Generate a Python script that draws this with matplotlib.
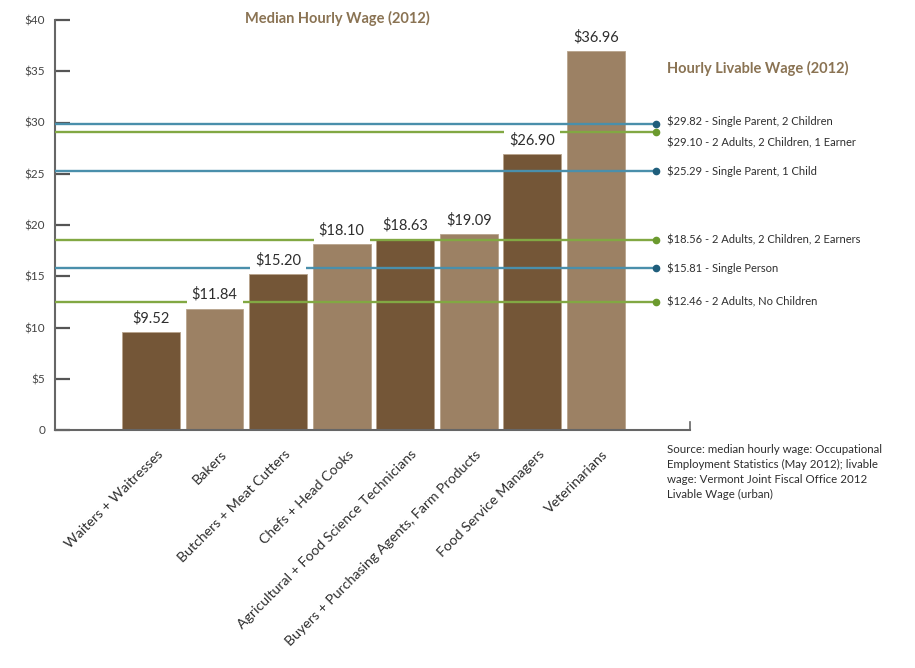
import numpy as np
import matplotlib.pyplot as plt
from matplotlib.transforms import ScaledTranslation

plt.rcParams['font.family'] = ['Lato', 'DejaVu Sans']

## DATA
jobs = ['Waiters + Waitresses', 'Bakers', 'Butchers + Meat Cutters', 'Chefs + Head Cooks',
        'Agricultural + Food Science Technicians', 'Buyers + Purchasing Agents, Farm Products',
        'Food Service Managers', 'Veterinarians']
median_wage = [9.52, 11.84, 15.20, 18.10, 18.63, 19.09, 26.90, 36.96]

livable_wage = [29.82, 29.10, 25.29, 18.56, 15.81, 12.46]
livable_label = ['Single Parent, 2 Children', '2 Adults, 2 Children, 1 Earner', 'Single Parent, 1 Child',
                 '2 Adults, 2 Children, 2 Earners', 'Single Person', '2 Adults, No Children']
livable_group = ['parent', 'adults', 'parent', 'adults', 'parent', 'adults']

y_ticks = [0, 5, 10, 15, 20, 25, 30, 35, 40]
y_tick_labels = ['0', '$5', '$10', '$15', '$20', '$25', '$30', '$35', '$40']

source = ('Source: median hourly wage: Occupational\n'
          'Employment Statistics (May 2012); livable\n'
          'wage: Vermont Joint Fiscal Office 2012\n'
          'Livable Wage (urban)')

## STYLE
dark = '#745637'
light = '#9c8164'
line_col = {'parent': '#4a8fab', 'adults': '#82a843'}
dot_col = {'parent': '#1f5e7c', 'adults': '#6b9a2e'}
title_col = '#8a7353'
text_col = '#2e2e2e'

fig = plt.figure(figsize=(9.15, 6.68), dpi=100, facecolor='w')
ax = fig.add_axes([55/915, 238/668, 635/915, 410/668])

x = np.arange(len(jobs))
bar_cols = [dark if i % 2 == 0 else light for i in range(len(jobs))]
ax.bar(x, median_wage, width=0.91, color=bar_cols, edgecolor='#b8a48c', linewidth=0.6, zorder=2)

ax.set_xlim(-1.51, 8.48)
ax.set_ylim(0, 40)

# value labels, white box cuts the livable lines
for xi, v in zip(x, median_wage):
    ax.annotate('$%.2f' % v, (xi, v), xytext=(0, 5), textcoords='offset points',
                ha='center', va='bottom', fontsize=10.5, color=text_col, zorder=5,
                bbox=dict(boxstyle='square,pad=0.35', fc='w', ec='none'))

# livable wage lines
x_dot = 7.94
label_shift = [2, -8, 0, 0, 0, 0]
for v, lab, g, sh in zip(livable_wage, livable_label, livable_group, label_shift):
    ax.hlines(v, ax.get_xlim()[0], x_dot, color=line_col[g], linewidth=1.7, zorder=3)
    ax.plot(x_dot, v, 'o', color=dot_col[g], markersize=4.5, zorder=4, clip_on=False)
    ax.annotate('$%.2f - %s' % (v, lab), (x_dot, v), xytext=(8, sh), textcoords='offset points',
                ha='left', va='center', fontsize=8, color=text_col, annotation_clip=False)

# axes
for s in ['top', 'right']:
    ax.spines[s].set_visible(False)
for s in ['left', 'bottom']:
    ax.spines[s].set_color('#666666')
    ax.spines[s].set_linewidth(1.5)
ax.plot([ax.get_xlim()[1]]*2, [0, 0.8], color='#666666', linewidth=1.2, clip_on=False)

ax.set_yticks(y_ticks)
ax.set_yticklabels(y_tick_labels)
ax.tick_params(axis='y', direction='in', length=11, width=1.6, color='#555555',
               labelsize=8.5, labelcolor='#444444', pad=7)
ax.set_xticks(x)
ax.set_xticklabels(jobs, rotation=45, ha='right', va='center', rotation_mode='anchor')
ax.tick_params(axis='x', length=0, pad=16, labelsize=10.2, labelcolor=text_col)
for lbl in ax.get_xticklabels():
    lbl.set_transform(lbl.get_transform() + ScaledTranslation(7/72, 0, fig.dpi_scale_trans))

# titles and note
fig.text(337/915, 1 - 18/668, 'Median Hourly Wage (2012)', ha='center', va='center',
         fontsize=10.5, fontweight='bold', color=title_col)
fig.text(667/915, 1 - 68/668, 'Hourly Livable Wage (2012)', ha='left', va='center',
         fontsize=10.5, fontweight='bold', color=title_col)
fig.text(667/915, 1 - 444/668, source, ha='left', va='top', fontsize=8.3,
         color=text_col, linespacing=1.45)

fig.savefig('out.png', dpi=100)
